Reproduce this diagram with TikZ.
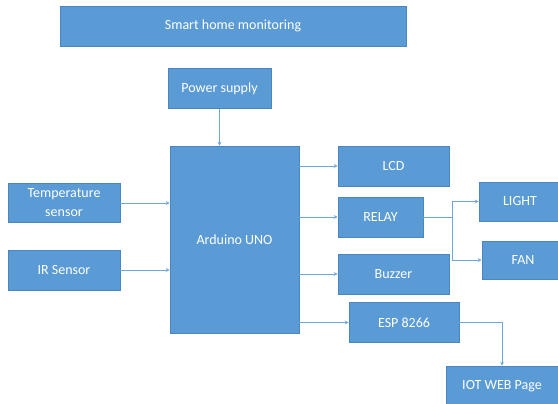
\documentclass[tikz,border=0pt]{standalone}
\usepackage{fontspec}
\setmainfont{Carlito}
\usepackage{xcolor}
\usepackage{tikz}
\usetikzlibrary{arrows.meta,positioning,calc}

\definecolor{boxblue}{HTML}{5B9BD5}
\definecolor{edgeblue}{HTML}{4A86C0}
\definecolor{wireblue}{HTML}{6FA6DA}

\begin{document}
\begin{tikzpicture}[
  x=1pt,
  y=-1pt,
  font=\fontsize{14}{19}\selectfont,
  block/.style={
    draw=edgeblue,
    line width=0.6pt,
    fill=boxblue,
    text=white,
    align=center,
    inner sep=0pt
  },
  arrow/.style={
    -{Stealth[length=4pt,width=4pt]},
    draw=wireblue,
    line width=0.8pt
  }
]
\useasboundingbox (0,0) rectangle (558,404);

%---------------------------------
% Title and supply
%---------------------------------
\node[block, minimum width=346, minimum height=40] (title) at (233,26)
{Smart home monitoring};

\node[block, minimum width=103, minimum height=40] (power) at (219.5,88.5)
{Power supply};

%---------------------------------
% Controller and inputs
%---------------------------------
\node[block, minimum width=129, minimum height=187] (arduino) at (234.5,239.5)
{Arduino UNO};

\node[block, minimum width=112, minimum height=39] (temp) at (64,203)
{Temperature\\sensor};

\node[block, minimum width=112, minimum height=40] (ir) at (64,270)
{IR Sensor};

%---------------------------------
% Outputs
%---------------------------------
\node[block, minimum width=111, minimum height=40] (lcd) at (393.5,166)
{LCD};

\node[block, minimum width=85, minimum height=40] (relay) at (380.5,217)
{RELAY};

\node[block, minimum width=111, minimum height=40] (buzzer) at (393.5,274)
{Buzzer};

\node[block, minimum width=110, minimum height=40] (esp) at (404,322.5)
{ESP 8266};

\node[block, minimum width=82, minimum height=39] (light) at (520,201.5)
{LIGHT};

\node[block, minimum width=82, minimum height=38] (fan) at (523,260)
{FAN};

\node[block, minimum width=112, minimum height=40] (iot) at (502,386)
{IOT WEB Page};

%---------------------------------
% Connections
%---------------------------------
\draw[arrow] (power.south) -- (power.south |- arduino.north);
\draw[arrow] (temp.east) -- (temp.east -| arduino.west);
\draw[arrow] (ir.east) -- (ir.east -| arduino.west);

\draw[arrow] (arduino.east |- lcd.west) -- (lcd.west);
\draw[arrow] (arduino.east |- relay.west) -- (relay.west);
\draw[arrow] (arduino.east |- buzzer.west) -- (buzzer.west);
\draw[arrow] (arduino.east |- esp.west) -- (esp.west);

\draw[arrow] (relay.east) -- ++(29,0) |- (light.west);
\draw[arrow] (relay.east) -- ++(29,0) |- (fan.west);
\draw[arrow] (esp.east) -| (iot.north);

\end{tikzpicture}
\end{document}
